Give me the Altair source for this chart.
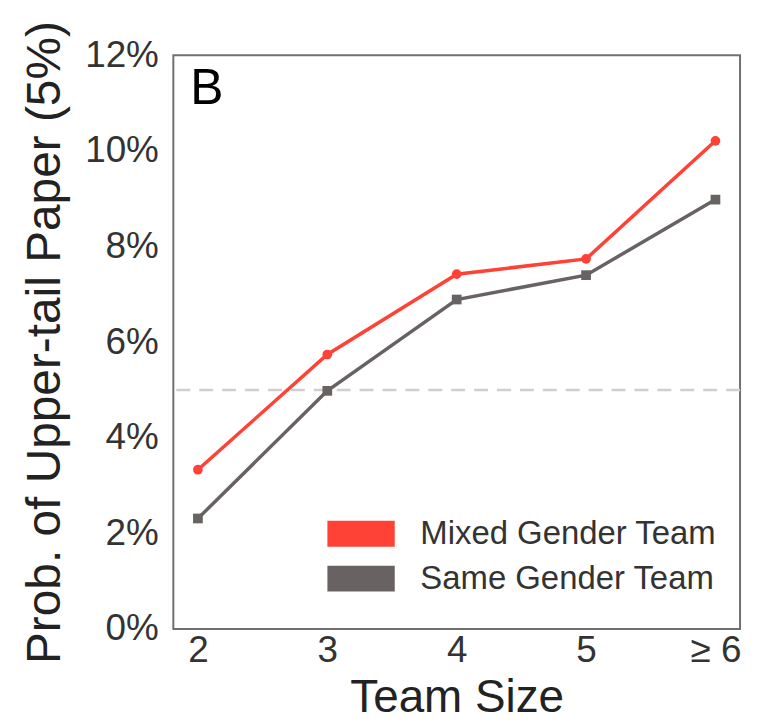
import altair as alt
import pandas as pd

team_sizes = ["2", "3", "4", "5", "≥ 6"]
mixed_prob = [0.0333, 0.0574, 0.0742, 0.0774, 0.1021]
same_prob = [0.0231, 0.0498, 0.0689, 0.0740, 0.0898]
series_names = ["Mixed Gender Team", "Same Gender Team"]
series_colors = ["#ff4136", "#686262"]
marker_shapes = ["circle", "square"]
baseline_value = [0.05]
y_ticks = [0.0, 0.02, 0.04, 0.06, 0.08, 0.10, 0.12]
panel_label = ["B"]

FONT = "Liberation Sans"

rows = []
for name, vals in zip(series_names, [mixed_prob, same_prob]):
    for t, v in zip(team_sizes, vals):
        rows.append({"size": t, "prob": v, "series": name, "marker": name + " m"})
df = pd.DataFrame(rows)

x_enc = alt.X(
    "size:O",
    sort=team_sizes,
    scale=alt.Scale(type="point", padding=0.19),
    axis=alt.Axis(
        title="Team Size",
        labelAngle=0,
        labelFontSize=37,
        labelPadding=4,
        titleFontSize=46,
        titleY=83,
        titleBaseline="alphabetic",
    ),
)
y_enc = alt.Y(
    "prob:Q",
    scale=alt.Scale(domain=[0, 0.12], nice=False),
    axis=alt.Axis(
        title="Prob. of Upper-tail Paper (5%)",
        values=y_ticks,
        format=".0%",
        labelFontSize=37,
        labelPadding=15,
        titleFontSize=48,
        titleX=-128,
        titleY=288,
        titleAlign="center",
        titleBaseline="middle",
    ),
)

color_scale = alt.Scale(domain=series_names, range=series_colors)

rule = alt.Chart(pd.DataFrame({"y": baseline_value})).mark_rule(
    color="#cfcfcf", strokeDash=[14, 9], strokeWidth=2.5
).encode(y=alt.Y("y:Q", scale=alt.Scale(domain=[0, 0.12], nice=False)))

lines = alt.Chart(df).mark_line(strokeWidth=3.5).encode(
    x=x_enc,
    y=y_enc,
    color=alt.Color("series:N", scale=color_scale, legend=None),
)

points = alt.Chart(df).mark_point(filled=True, size=95, opacity=1).encode(
    x=x_enc,
    y=y_enc,
    color=alt.Color(
        "series:N",
        scale=color_scale,
        legend=alt.Legend(
            title=None,
            orient="none",
            legendX=172,
            legendY=464,
            symbolType="M-2.6,-1H2.6V1H-2.6Z",
            symbolSize=676,
            symbolStrokeWidth=0,
            symbolOpacity=1,
            labelFontSize=33,
            labelFont=FONT,
            labelColor="#333333",
            labelOffset=43,
            labelLimit=500,
            rowPadding=11,
            padding=0,
        ),
    ),
    shape=alt.Shape(
        "marker:N",
        scale=alt.Scale(domain=[n + " m" for n in series_names], range=marker_shapes),
        legend=None,
    ),
)

label = alt.Chart(pd.DataFrame({"t": panel_label})).mark_text(
    align="left", baseline="alphabetic", fontSize=50, font=FONT, color="#000000"
).encode(x=alt.value(17), y=alt.value(49), text="t:N")

chart = alt.layer(rule, lines, points, label).resolve_scale(
    color="independent"
).properties(
    width=569,
    height=576,
    autosize=alt.AutoSizeParams(type="none"),
    padding={"left": 166, "top": 46, "right": 10, "bottom": 84},
).configure_view(
    stroke="#707070", strokeWidth=2
).configure_axis(
    ticks=False,
    domain=False,
    grid=False,
    labelFont=FONT,
    titleFont=FONT,
    labelColor="#333333",
    titleColor="#222222",
    titleFontWeight="normal",
)

chart.save("out.html", embed_options={"renderer": "svg", "actions": False})
